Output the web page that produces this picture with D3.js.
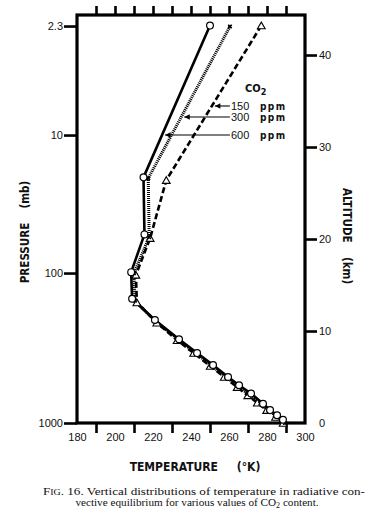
<!DOCTYPE html>
<html><head><meta charset="utf-8">
<script src="https://cdn.jsdelivr.net/npm/d3@7"></script>
<style>body{margin:0;background:#fff}svg{display:block}</style>
</head><body><svg id="c" width="367" height="516"></svg>
<script>
// ---- data ----
const tempLabelTicks = [180, 200, 220, 240, 260, 280, 300];
const tempBottomTicks = [190, 210, 230, 250, 270, 290];
const tempTopTicks = [190, 200, 210, 220, 230, 240, 250, 260, 270, 280, 290];
const altitudeTicks = [0, 10, 20, 30, 40];
const pressureLabels = ["2.3", "10", "100", "1000"];
const pressureAltitudes = [43.15, 31.3, 16.3, 0];

// 600 ppm (solid, circles)
const alt600  = [43.2, 26.7, 20.5, 16.4, 13.5, 11.2, 9.1, 7.6, 6.3, 5.0, 4.1, 3.2, 2.1, 1.4, 0.85, 0.35];
const temp600 = [250, 215, 215.5, 208.5, 209, 221, 233.7, 243.2, 251.6, 259.5, 265.3, 271.6, 277.9, 281.6, 285.3, 288.4];
// 300 ppm (dotted, crosses)
const alt300  = [43.1, 26.6, 20.2, 16.3, 13.3, 11.1, 9.1, 7.6, 6.3, 5.0, 4.1, 3.2, 2.1, 1.4, 0.85, 0.35, 0];
const temp300 = [260.5, 217.5, 218, 210, 210.5, 221, 233.1, 242.4, 250.4, 258.5, 264.1, 269.7, 276.5, 280.8, 284.2, 287.3, 289.5];
// 150 ppm (dashed, triangles)
const alt150  = [43.2, 26.4, 20.1, 16.1, 13.1, 10.9, 9.0, 7.6, 6.2, 5.0, 3.9, 3.0, 2.2, 1.4, 0.65, 0];
const temp150 = [277, 227, 218.5, 211, 211.5, 222, 232.7, 241.4, 250.1, 257.5, 264.3, 269.9, 274.9, 279.8, 284.5, 288.5];

const legendValues = ["150", "300", "600"];
const legendAltitudes = [34.46, 33.26, 31.3];
const legendLabelTemp = 261;

// ---- drawing ----
const svg = d3.select("#c");
const x = d3.scaleLinear().domain([180, 300]).range([77, 305]);
const y = d3.scaleLinear().domain([0, 44.35]).range([423, 15]);
const tickFont = "'Liberation Sans', Arial, sans-serif";
const titleFont = "'DejaVu Sans Condensed', 'DejaVu Sans', sans-serif";

const zip = (a, t) => a.map((z, i) => ({z, t: t[i]}));
const s600 = zip(alt600, temp600), s300 = zip(alt300, temp300), s150 = zip(alt150, temp150);

function styleAxis(g, w) {
  g.select(".domain").remove();
  g.selectAll(".tick line").attr("stroke", "#000").attr("stroke-width", w);
  g.selectAll(".tick text").attr("font-family", tickFont).attr("font-size", 11).attr("fill", "#111");
}

// bottom ticks
svg.append("g").attr("transform", `translate(0,${y(0)})`)
  .call(d3.axisBottom(x).tickValues(tempBottomTicks).tickSize(10).tickFormat(""))
  .call(g => styleAxis(g, 2.6));
svg.append("g").attr("transform", `translate(0,${y(0)})`)
  .call(d3.axisBottom(x).tickValues(tempLabelTicks).tickSize(0).tickPadding(10).tickFormat(d3.format("d")))
  .call(g => styleAxis(g, 0));
// top ticks
svg.append("g").attr("transform", `translate(0,${y(44.35)})`)
  .call(d3.axisTop(x).tickValues(tempTopTicks).tickSize(9).tickFormat(""))
  .call(g => styleAxis(g, 2.6));
// left pressure ticks
svg.append("g").attr("transform", `translate(${x(180)},0)`)
  .call(d3.axisLeft(y).tickValues(pressureAltitudes).tickSize(13).tickPadding(1)
    .tickFormat((d, i) => pressureLabels[i]))
  .call(g => styleAxis(g, 2.6));
// right altitude ticks
svg.append("g").attr("transform", `translate(${x(300)},0)`)
  .call(d3.axisRight(y).tickValues(altitudeTicks).tickSize(12).tickPadding(2).tickFormat(d3.format("d")))
  .call(g => styleAxis(g, 2.6))
  .call(g => g.selectAll(".tick").filter(d => d === 0).select("line").remove());

// frame
svg.append("rect")
  .attr("x", x(180)).attr("y", y(44.35))
  .attr("width", x(300) - x(180)).attr("height", y(0) - y(44.35))
  .attr("fill", "none").attr("stroke", "#000").attr("stroke-width", 3.2);

const line = d3.line().x(d => x(d.t)).y(d => y(d.z));

svg.append("path").datum(s150).attr("d", line).attr("fill", "none")
  .attr("stroke", "#000").attr("stroke-width", 2.6).attr("stroke-dasharray", "6,3");
svg.append("path").datum(s300).attr("d", line).attr("fill", "none")
  .attr("stroke", "#000").attr("stroke-width", 3).attr("stroke-dasharray", "1.1,0.9");
svg.append("path").datum(s600).attr("d", line).attr("fill", "none")
  .attr("stroke", "#000").attr("stroke-width", 2.6);

// markers
svg.append("g").selectAll("path").data(s150).join("path")
  .attr("transform", d => `translate(${x(d.t)},${y(d.z) + 1})`)
  .attr("d", d3.symbol(d3.symbolTriangle, 26))
  .attr("fill", "#fff").attr("stroke", "#000").attr("stroke-width", 1.1);
svg.append("g").selectAll("path").data(s300).join("path")
  .attr("transform", d => `translate(${x(d.t)},${y(d.z)}) rotate(45)`)
  .attr("d", d3.symbol(d3.symbolCross, 14))
  .attr("fill", "#000");
svg.append("g").selectAll("circle").data(s600).join("circle")
  .attr("cx", d => x(d.t)).attr("cy", d => y(d.z)).attr("r", 3.4)
  .attr("fill", "#fff").attr("stroke", "#000").attr("stroke-width", 1.2);

// legend with arrows pointing to each line
function tempAt(series, z) {
  for (let i = 0; i < series.length - 1; i++) {
    const a = series[i], b = series[i + 1];
    if ((z <= a.z && z >= b.z)) {
      const f = (z - b.z) / (a.z - b.z);
      return b.t + f * (a.t - b.t);
    }
  }
  return series[0].t;
}
const legendSeries = [s150, s300, s600];
const defs = svg.append("defs");
defs.append("marker").attr("id", "ah").attr("viewBox", "0 0 10 10").attr("refX", 10).attr("refY", 5)
  .attr("markerWidth", 7).attr("markerHeight", 5).attr("orient", "auto")
  .append("path").attr("d", "M0,0L10,5L0,10Z").attr("fill", "#000");

legendValues.forEach((v, i) => {
  const yy = y(legendAltitudes[i]);
  const tipX = x(tempAt(legendSeries[i], legendAltitudes[i])) + 3;
  svg.append("line").attr("x1", x(legendLabelTemp) - 1).attr("y1", yy).attr("x2", tipX).attr("y2", yy)
    .attr("stroke", "#000").attr("stroke-width", 1.1).attr("marker-end", "url(#ah)");
  svg.append("text").attr("x", x(legendLabelTemp)).attr("y", yy + 4)
    .attr("font-family", tickFont).attr("font-size", 11).attr("fill", "#111").text(v);
  svg.append("text").attr("x", x(legendLabelTemp) + 29).attr("y", yy + 4)
    .attr("font-family", titleFont).attr("font-weight", "bold").attr("font-size", 10)
    .attr("letter-spacing", 1.5).attr("fill", "#111").text("ppm");
});
const co2 = svg.append("text").attr("x", 245).attr("y", 92)
  .attr("font-family", titleFont).attr("font-weight", "bold").attr("font-size", 11).attr("fill", "#111");
co2.append("tspan").text("CO");
co2.append("tspan").attr("font-size", 9).attr("dy", 3).text("2");

// axis titles
svg.append("text").attr("transform", "translate(29,232) rotate(-90)").attr("text-anchor", "middle")
  .attr("font-family", titleFont).attr("font-weight", "bold").attr("font-size", 11.5)
  .attr("fill", "#111").attr("xml:space", "preserve").text("PRESSURE    (mb)");
svg.append("text").attr("transform", "translate(343,236) rotate(90)").attr("text-anchor", "middle")
  .attr("font-family", titleFont).attr("font-weight", "bold").attr("font-size", 11.5)
  .attr("fill", "#111").attr("xml:space", "preserve").text("ALTITUDE    (km)");
svg.append("text").attr("x", 195).attr("y", 471).attr("text-anchor", "middle")
  .attr("font-family", titleFont).attr("font-weight", "bold").attr("font-size", 12)
  .attr("fill", "#111").attr("xml:space", "preserve").text("TEMPERATURE     (°K)");

// caption
const serif = "'Liberation Serif', 'Times New Roman', serif";
const cap1 = svg.append("text").attr("x", 43).attr("y", 495).attr("textLength", 322)
  .attr("lengthAdjust", "spacingAndGlyphs")
  .attr("font-family", serif).attr("font-size", 11.2).attr("fill", "#111");
cap1.append("tspan").text("F");
cap1.append("tspan").attr("font-size", 8.5).text("IG");
cap1.append("tspan").text(". 16. Vertical distributions of temperature in radiative con-");
const cap2 = svg.append("text").attr("x", 197).attr("y", 506).attr("text-anchor", "middle")
  .attr("font-family", serif).attr("font-size", 11.2).attr("fill", "#111");
cap2.append("tspan").text("vective equilibrium for various values of CO");
cap2.append("tspan").attr("font-size", 8).attr("dy", 2).text("2");
cap2.append("tspan").attr("dy", -2).text(" content.");
</script></body></html>
